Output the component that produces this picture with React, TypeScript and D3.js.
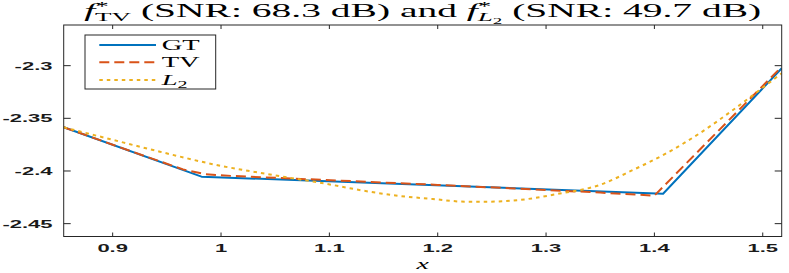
import React from "react";
import * as d3 from "d3";

const gtX = [0.8548, 0.982, 1.408, 1.5175];
const gtY = [-2.3585, -2.4054, -2.4216, -2.3025];

const tvX = [0.8548, 0.93, 0.965, 0.985, 1.01, 1.2, 1.3, 1.35, 1.4, 1.5175];
const tvY = [-2.3585, -2.386, -2.3985, -2.403, -2.4047, -2.4132, -2.418, -2.4205, -2.4234, -2.301];

const l2X = [0.8548, 0.9, 0.9436, 0.9959, 1.0574, 1.1032, 1.1189, 1.165, 1.1955, 1.2266, 1.245, 1.2757, 1.3127, 1.3495, 1.3803, 1.4111, 1.4418, 1.4725, 1.5033, 1.5175];
const l2Y = [-2.3585, -2.3704, -2.3817, -2.3943, -2.4054, -2.4133, -2.4164, -2.4237, -2.4266, -2.4292, -2.4292, -2.4275, -2.4214, -2.4133, -2.399, -2.3832, -2.3642, -2.3421, -2.3183, -2.3072];

const xTicks = [0.9, 1, 1.1, 1.2, 1.3, 1.4, 1.5];
const yTicks = [-2.45, -2.4, -2.35, -2.3];
const yTickLabels = ["-2.45", "-2.4", "-2.35", "-2.3"];
const legendLabels = ["GT", "TV", "L2"];

const W = 789, H = 273;
const L = 63.7, R = 781.7, T = 25, B = 236.5;
const SY = 0.5;
const axisColor = "#262626";
const colors = ["#0072BD", "#D95319", "#EDB120"];
const dashes = ["none", "10,5", "3.5,4"];

export default function App() {
  const x = d3.scaleLinear().domain([0.8548, 1.5175]).range([L, R]);
  const y = d3.scaleLinear().domain([-2.4622, -2.2614]).range([B, T]);

  const lin = d3.line<[number, number]>().x(d => x(d[0])).y(d => y(d[1]));
  const smooth = d3.line<[number, number]>().x(d => x(d[0])).y(d => y(d[1])).curve(d3.curveMonotoneX);

  const gt = lin(gtX.map((v, i) => [v, gtY[i]] as [number, number])) || "";
  const tv = lin(tvX.map((v, i) => [v, tvY[i]] as [number, number])) || "";
  const l2 = smooth(l2X.map((v, i) => [v, l2Y[i]] as [number, number])) || "";

  const paths = [gt, tv, l2];

  const lx0 = 85, ly0 = 35, lw = 130.7, lh = 54;
  const rowY = [45, 62.3, 80];

  return (
    <svg width={W} height={H} style={{ position: "absolute", left: 0, top: 0, background: "#fff" }}>
      <rect x={0} y={0} width={W} height={H} fill="#fff" />
      <defs>
        <clipPath id="clip">
          <rect x={L} y={T} width={R - L} height={B - T} />
        </clipPath>
      </defs>
      <g clipPath="url(#clip)">
        {paths.map((p, i) => (
          <path key={i} d={p} fill="none" stroke={colors[i]} strokeWidth={2}
            strokeDasharray={dashes[i]} strokeLinejoin="round" />
        ))}
      </g>
      <rect x={L} y={T} width={R - L} height={B - T} fill="none" stroke={axisColor} strokeWidth={1} />
      {xTicks.map((t, i) => (
        <g key={"xt" + i}>
          <line x1={x(t)} x2={x(t)} y1={B} y2={B - 4} stroke={axisColor} />
          <line x1={x(t)} x2={x(t)} y1={T} y2={T + 4} stroke={axisColor} />
          <g transform={`translate(${x(t)},${252}) scale(1,${SY})`}>
            <text textAnchor="middle" fontFamily="Liberation Sans" fontWeight="bold" fontSize={22} fill="#1a1a1a">{String(t)}</text>
          </g>
        </g>
      ))}
      {yTicks.map((t, i) => (
        <g key={"yt" + i}>
          <line x1={L} x2={L + 7} y1={y(t)} y2={y(t)} stroke={axisColor} />
          <line x1={R} x2={R - 7} y1={y(t)} y2={y(t)} stroke={axisColor} />
          <g transform={`translate(${52.5},${y(t) + 4}) scale(1,${SY})`}>
            <text textAnchor="end" fontFamily="Liberation Sans" fontWeight="bold" fontSize={22} fill="#1a1a1a">{yTickLabels[i]}</text>
          </g>
        </g>
      ))}
      <g transform={`translate(${(L + R) / 2},${269}) scale(1,${SY})`}>
        <text textAnchor="middle" fontFamily="Liberation Serif" fontStyle="italic" fontSize={28}>x</text>
      </g>
      <g transform={`translate(${(L + R) / 2},${16.5}) scale(1,0.47)`}>
        <text textAnchor="middle" fontFamily="Liberation Serif" fontSize={39.5} style={{ whiteSpace: "pre" }} fill="#000">
          <tspan fontStyle="italic">f</tspan>
          <tspan fontSize={27} dy={-14}>*</tspan>
          <tspan fontSize={27} dy={24} dx={-13.5}>TV</tspan>
          <tspan dy={-10}> (SNR: 68.3 dB) and </tspan>
          <tspan fontStyle="italic">f</tspan>
          <tspan fontSize={27} dy={-14}>*</tspan>
          <tspan fontSize={27} dy={24} dx={-13.5} fontStyle="italic">L</tspan>
          <tspan fontSize={19} dy={5}>2</tspan>
          <tspan dy={-15}> (SNR: 49.7 dB)</tspan>
        </text>
      </g>
      <rect x={lx0} y={ly0} width={lw} height={lh} fill="#fff" stroke={axisColor} strokeWidth={1} />
      {legendLabels.map((lab, i) => (
        <g key={"lg" + i}>
          <line x1={99.3} x2={156} y1={rowY[i]} y2={rowY[i]} stroke={colors[i]} strokeWidth={2} strokeDasharray={dashes[i]} />
          <g transform={`translate(${161.7},${rowY[i] + 4.7}) scale(1,${SY})`}>
            {lab === "L2" ? (
              <text fontFamily="Liberation Serif" fontSize={28.5} fill="#000">
                <tspan fontStyle="italic">L</tspan>
                <tspan fontSize={20} dy={6}>2</tspan>
              </text>
            ) : (
              <text fontFamily="Liberation Serif" fontSize={28.5} fill="#000">{lab}</text>
            )}
          </g>
        </g>
      ))}
    </svg>
  );
}
